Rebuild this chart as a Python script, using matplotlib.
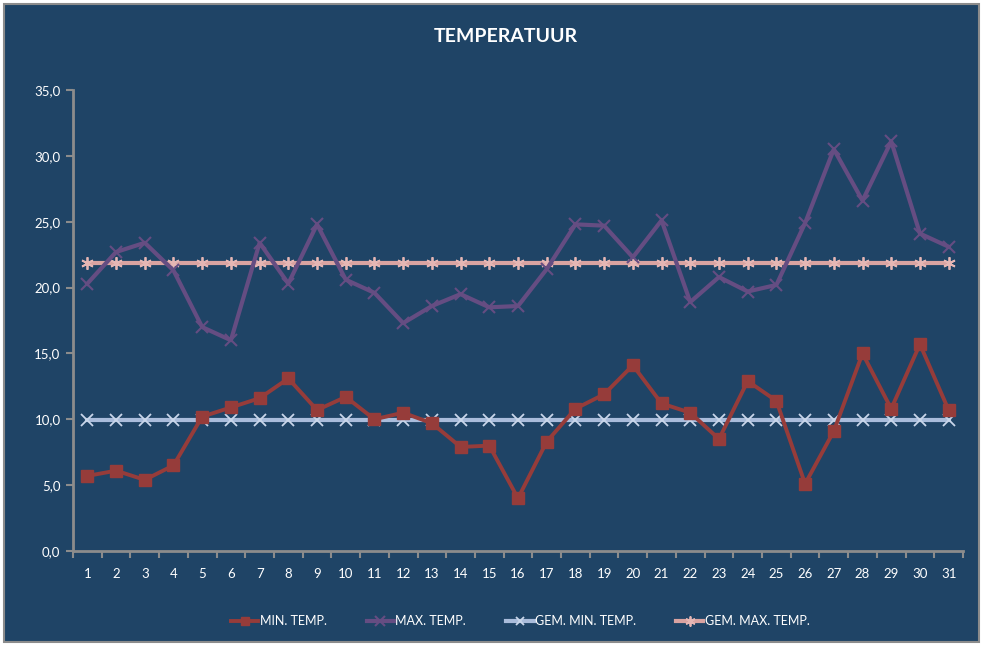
import matplotlib.pyplot as plt
from matplotlib.patches import Rectangle
from matplotlib.ticker import FuncFormatter, MultipleLocator

days = list(range(1, 32))
min_temp = [5.7, 6.1, 5.4, 6.5, 10.2, 10.9, 11.6, 13.1, 10.7, 11.7, 10.0, 10.5, 9.7, 7.9, 8.0,
            4.0, 8.3, 10.8, 11.9, 14.1, 11.2, 10.5, 8.5, 12.9, 11.4, 5.1, 9.1, 15.0, 10.8, 15.7, 10.7]
max_temp = [20.3, 22.7, 23.4, 21.3, 17.0, 16.0, 23.4, 20.3, 24.8, 20.6, 19.6, 17.3, 18.6, 19.5, 18.5,
            18.6, 21.4, 24.8, 24.7, 22.3, 25.1, 18.9, 20.8, 19.7, 20.2, 24.9, 30.5, 26.6, 31.1, 24.1, 23.1]
gem_min = [9.95] * 31
gem_max = [21.9] * 31

BG = '#1f4466'
plt.rcParams['font.family'] = ['Lato', 'DejaVu Sans']

fig = plt.figure(figsize=(9.87, 6.48), dpi=100)
fig.patch.set_facecolor('white')
fig.patches.append(Rectangle((4 / 987, 6 / 648), 975 / 987, 638 / 648, transform=fig.transFigure,
                             facecolor=BG, edgecolor='#8c8c8c', linewidth=1.5, zorder=-10))

ax = fig.add_axes([73 / 987, 97 / 648, 890 / 987, 461 / 648])
ax.set_facecolor(BG)

ax.plot(days, gem_min, color='#a9bcdb', lw=3, marker='x', ms=8, mew=1.3, mec='#c9d6ea', zorder=2)
ax.plot(days, gem_max, color='#d9a3a1', lw=3, marker=(6, 2, 0), ms=9, mew=1.3, mec='#e5b6b4', zorder=2)
ax.plot(days, max_temp, color='#654d82', lw=3, marker='x', ms=9, mew=1.5, zorder=3)
ax.plot(days, min_temp, color='#963c3a', lw=2.8, marker='s', ms=8, zorder=4)

ax.set_xlim(0.5, 31.5)
ax.set_ylim(0, 35)
ax.yaxis.set_major_locator(MultipleLocator(5))
ax.yaxis.set_major_formatter(FuncFormatter(lambda v, p: f'{v:.1f}'.replace('.', ',')))
ax.set_xticks(days)
ax.set_xticks([d + 0.5 for d in range(0, 32)], minor=True)
ax.tick_params(axis='x', which='major', length=0, pad=12, labelcolor='white', labelsize=9.5)
ax.tick_params(axis='x', which='minor', length=5, color='#8c8c8c', width=1.5)
ax.tick_params(axis='y', length=5, color='#8c8c8c', width=1.5, labelcolor='white', labelsize=9.5, pad=4)
for s in ['top', 'right']:
    ax.spines[s].set_visible(False)
for s in ['left', 'bottom']:
    ax.spines[s].set_color('#8c8c8c')
    ax.spines[s].set_linewidth(2)

fig.text(0.512, 0.943, 'TEMPERATUUR', color='white', fontsize=14, fontweight='bold',
         ha='center', va='center')

handles = ax.get_lines()
labels = ['GEM. MIN. TEMP.', 'GEM. MAX. TEMP.', 'MAX. TEMP.', 'MIN. TEMP.']
order = [3, 2, 0, 1]
leg = fig.legend([handles[i] for i in order], [labels[i] for i in order], loc='center',
                 bbox_to_anchor=(0.527, 0.041), ncol=4, frameon=False, fontsize=9,
                 handlelength=2.2, handletextpad=0.1, columnspacing=3.2, markerscale=0.8)
for t in leg.get_texts():
    t.set_color('white')

fig.savefig('out.png', dpi=100, facecolor='white')
